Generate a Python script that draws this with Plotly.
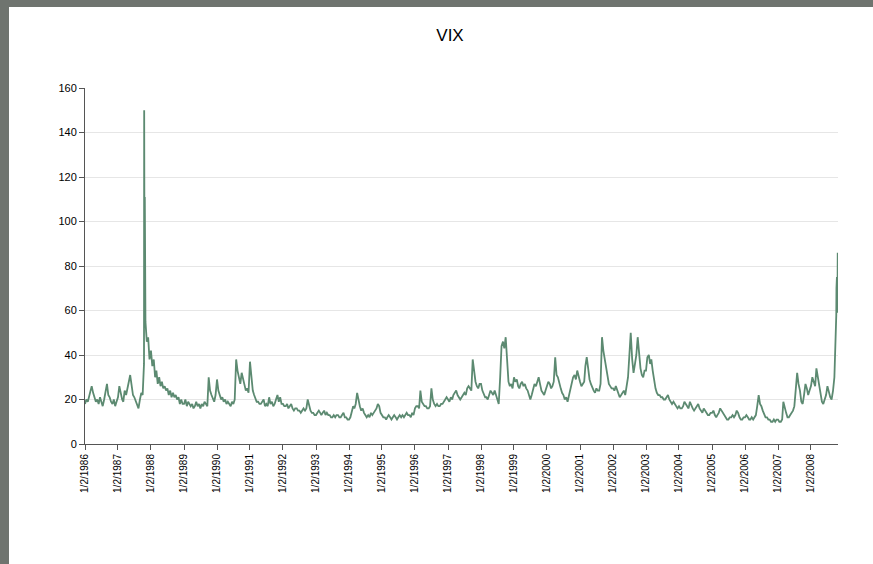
import pandas as pd
import plotly.graph_objects as go

# Semi-monthly readings (2nd and 17th of each month)
v1986 = [18, 20, 19, 22, 24, 26, 23, 21, 19, 20, 18, 21, 19, 17, 20, 24, 27, 22, 21, 19, 18, 20, 17, 19]
v1987 = [21, 26, 22, 20, 19, 24, 22, 26, 28, 31, 25, 22, 21, 19, 17, 16, 20, 23, 22, 36, 55, 46, 48, 38]
v1988 = [42, 35, 38, 30, 33, 27, 30, 26, 28, 25, 26, 24, 25, 22, 24, 21, 23, 21, 22, 20, 21, 18, 20, 18]
v1989 = [18, 20, 17, 19, 18, 17, 18, 16, 17, 19, 17, 18, 16, 18, 17, 19, 18, 17, 30, 24, 22, 20, 19, 22]
v1990 = [29, 24, 22, 20, 21, 19, 20, 18, 19, 18, 17, 19, 18, 20, 38, 33, 30, 27, 32, 29, 26, 24, 25, 23]
v1991 = [37, 30, 24, 22, 20, 19, 19, 18, 18, 19, 20, 17, 18, 17, 21, 18, 19, 17, 18, 20, 22, 19, 21, 18]
v1992 = [18, 17, 17, 18, 16, 17, 18, 16, 15, 16, 16, 15, 15, 14, 15, 16, 15, 16, 20, 17, 15, 14, 14, 13]
v1993 = [13, 14, 15, 14, 13, 14, 15, 13, 14, 13, 13, 12, 12, 13, 12, 13, 13, 12, 12, 13, 14, 12, 12, 11]
v1994 = [11, 12, 15, 17, 16, 18, 23, 19, 17, 15, 16, 14, 13, 12, 13, 12, 14, 13, 14, 15, 16, 18, 17, 14]
v1995 = [13, 12, 12, 11, 12, 13, 12, 11, 12, 13, 12, 11, 12, 13, 12, 13, 12, 13, 14, 13, 13, 12, 14, 13]
v1996 = [16, 17, 17, 16, 24, 19, 18, 17, 17, 16, 16, 17, 25, 20, 18, 17, 18, 17, 17, 18, 18, 19, 20, 21]
v1997 = [20, 19, 21, 20, 22, 23, 24, 22, 21, 20, 21, 22, 23, 22, 25, 26, 25, 24, 38, 32, 28, 26, 25, 27]
v1998 = [27, 24, 22, 21, 21, 20, 22, 24, 23, 22, 24, 22, 19, 18, 30, 44, 46, 43, 48, 35, 28, 26, 27, 25]
v1999 = [30, 28, 29, 26, 25, 27, 28, 26, 27, 25, 24, 22, 20, 22, 25, 27, 26, 28, 30, 27, 24, 23, 22, 24]
v2000 = [26, 28, 27, 25, 26, 28, 39, 31, 30, 27, 25, 23, 22, 20, 21, 19, 22, 24, 28, 30, 31, 29, 33, 30]
v2001 = [28, 26, 27, 28, 35, 39, 34, 29, 27, 25, 24, 23, 25, 24, 24, 27, 48, 42, 38, 34, 30, 27, 26, 25]
v2002 = [25, 24, 26, 24, 22, 21, 22, 23, 24, 22, 26, 30, 40, 50, 38, 32, 36, 40, 48, 40, 34, 31, 30, 33]
v2003 = [33, 39, 40, 36, 38, 33, 28, 25, 23, 22, 22, 21, 21, 20, 20, 21, 22, 20, 19, 18, 19, 18, 17, 16]
v2004 = [17, 16, 16, 17, 19, 18, 17, 16, 19, 17, 16, 15, 16, 17, 18, 16, 15, 14, 16, 15, 14, 13, 13, 14]
v2005 = [14, 15, 13, 12, 13, 14, 16, 15, 14, 13, 12, 11, 11, 12, 12, 13, 12, 13, 15, 14, 12, 11, 11, 12]
v2006 = [12, 13, 12, 11, 11, 12, 11, 12, 13, 17, 22, 18, 17, 15, 13, 12, 12, 11, 11, 10, 10, 11, 10, 11]
v2007 = [11, 10, 10, 11, 19, 16, 14, 12, 12, 13, 14, 15, 17, 24, 32, 27, 24, 19, 18, 22, 27, 25, 22, 24]
v2008 = [26, 30, 28, 26, 34, 30, 25, 22, 19, 18, 20, 22, 26, 23, 21, 20, 24, 30]

# Daily readings around the two spikes
crash87_dates = ["1987-10-19", "1987-10-20", "1987-10-21", "1987-10-22", "1987-10-23",
                 "1987-10-26", "1987-10-27", "1987-10-28", "1987-10-29", "1987-10-30"]
crash87_vals = [150, 140, 74, 103, 68, 111, 80, 70, 58, 55]
crash08_dates = ["2008-09-29", "2008-10-01", "2008-10-03", "2008-10-06", "2008-10-08",
                 "2008-10-10", "2008-10-13", "2008-10-15", "2008-10-17", "2008-10-20",
                 "2008-10-22", "2008-10-24", "2008-10-27"]
crash08_vals = [46, 38, 45, 52, 58, 70, 60, 75, 66, 59, 72, 86, 80]

tick_years = list(range(1986, 2009))
tick_labels = [f"1/2/{y}" for y in tick_years]

yearly = [v1986, v1987, v1988, v1989, v1990, v1991, v1992, v1993, v1994, v1995, v1996, v1997,
          v1998, v1999, v2000, v2001, v2002, v2003, v2004, v2005, v2006, v2007, v2008]

dates, vals = [], []
for i, yv in enumerate(yearly):
    yr = 1986 + i
    for k, v in enumerate(yv):
        dates.append(pd.Timestamp(yr, k // 2 + 1, 2 if k % 2 == 0 else 17))
        vals.append(v)
for d, v in zip(crash87_dates + crash08_dates, crash87_vals + crash08_vals):
    dates.append(pd.Timestamp(d))
    vals.append(v)

df = pd.DataFrame({"date": dates, "vix": vals}).sort_values("date")

fig = go.Figure()
fig.add_trace(go.Scatter(x=df["date"], y=df["vix"], mode="lines",
                         line=dict(color="#5c8a71", width=1.8), showlegend=False))

L, R, T, B = 85, 35, 88, 120
W, H = 873, 564
pw, ph = W - L - R, H - T - B
def px(p):
    return (p - L) / pw
def py(q):
    return (H - B - q) / ph

fig.add_shape(type="rect", xref="paper", yref="paper",
              x0=px(9), x1=px(874), y0=py(565), y1=py(7),
              fillcolor="white", line=dict(width=0), layer="below")

FONT = "Liberation Sans Narrow, Arial Narrow, Liberation Sans, Arial"
fig.update_layout(
    width=W, height=H,
    margin=dict(l=L, r=R, t=T, b=B),
    paper_bgcolor="#6f746f",
    plot_bgcolor="rgba(0,0,0,0)",
    title=dict(text="VIX", x=px(450), xref="paper", xanchor="center",
               y=1 - 35 / H, yanchor="middle",
               font=dict(family="Liberation Sans, Arial", size=17, color="#000")),
    font=dict(family=FONT, size=11, color="#000"),
)
fig.update_xaxes(
    range=[pd.Timestamp("1986-01-02"), pd.Timestamp("2008-10-27")],
    tickmode="array",
    tickvals=[pd.Timestamp(y, 1, 2) for y in tick_years],
    ticktext=tick_labels,
    tickangle=-90,
    ticks="outside", ticklen=5, tickcolor="#555",
    showline=True, linecolor="#555", linewidth=1,
    showgrid=False, zeroline=False,
    tickfont=dict(size=10),
)
fig.update_yaxes(
    range=[0, 160], tickmode="linear", tick0=0, dtick=20,
    ticks="outside", ticklen=5, tickcolor="#555",
    showline=True, linecolor="#555", linewidth=1,
    showgrid=True, gridcolor="#e6e6e6", gridwidth=1, zeroline=False,
    tickfont=dict(size=11),
)

fig.write_html("out.html", config={"displayModeBar": False},
               post_script="document.body.style.margin='0';document.body.style.background='#6f746f';")
